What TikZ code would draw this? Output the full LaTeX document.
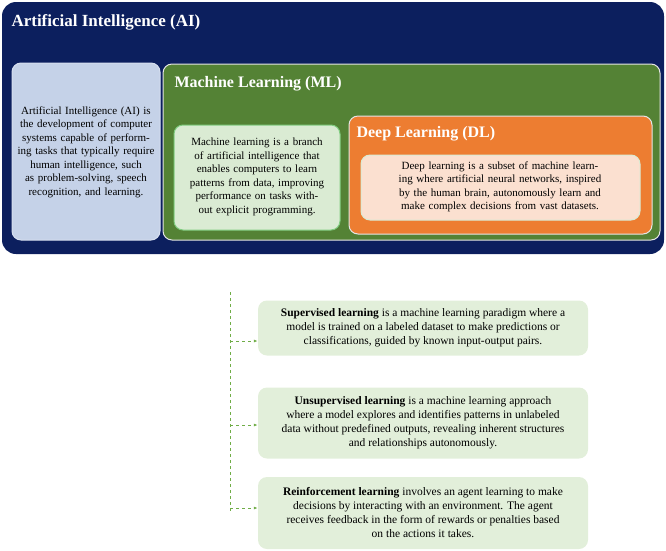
\documentclass[tikz,border=0pt]{standalone}
\usepackage{fontspec}
\setmainfont{Liberation Serif}
\usetikzlibrary{arrows.meta,positioning}
\definecolor{ainavy}{RGB}{12,31,94}
\definecolor{aiblue}{RGB}{197,210,232}
\definecolor{mlgreen}{RGB}{84,130,53}
\definecolor{mllight}{RGB}{218,235,211}
\definecolor{dlorange}{RGB}{237,125,49}
\definecolor{dllight}{RGB}{251,224,208}
\definecolor{typefill}{RGB}{226,239,218}
\definecolor{dashgreen}{RGB}{112,173,71}
\begin{document}
\begin{tikzpicture}[x=1pt,y=-1pt,
    area/.style={draw=white!80!gray, line width=1pt, rounded corners=9pt},
    title/.style={anchor=west, text=white, font=\bfseries\fontsize{17}{19}\selectfont},
    desc/.style={rounded corners=9pt, align=center, inner sep=2pt, font=\fontsize{11}{13.5}\selectfont},
    typebox/.style={fill=typefill, rounded corners=9pt, align=center, minimum width=330pt, font=\fontsize{11.5}{14}\selectfont},
    dasharrow/.style={dashed, dashgreen, thick, -{Latex[length=4pt]}}
]
    \useasboundingbox (0,0) rectangle (666,550);

    % AI
    \fill[ainavy, rounded corners=14pt] (2,2) rectangle (664,254);
    \node[title] (aititle) at (8,22) {Artificial Intelligence (AI)};
    \draw[area, fill=aiblue, draw=aiblue!70!white] (12,63) rectangle (160,240);
    \node[desc, text width=138pt] (aitext) at (86,152) {Artificial Intelligence (AI) is the development of computer systems capable of performing tasks that typically require human intelligence, such as problem-solving, speech recognition, and learning.};

    % ML
    \draw[area, fill=mlgreen] (163,64) rectangle (660,240);
    \node[title, font=\bfseries\fontsize{16}{18}\selectfont] (mltitle) at (171,84) {Machine Learning (ML)};
    \draw[area, fill=mllight, draw=green!60!black!50] (174,125) rectangle (340,230);
    \node[desc, text width=158pt] (mltext) at (257,177) {Machine learning is a branch of artificial intelligence that enables computers to learn patterns from data, improving performance on tasks without explicit programming.};

    % DL
    \draw[area, fill=dlorange] (349,116) rectangle (652,234);
    \node[title, font=\bfseries\fontsize{16}{18}\selectfont] (dltitle) at (353,134) {Deep Learning (DL)};
    \draw[area, fill=dllight, draw=mllight] (361,155) rectangle (640,220);
    \node[desc, text width=270pt] (dltext) at (500,187) {Deep learning is a subset of machine learning where artificial neural networks, inspired by the human brain, autonomously learn and make complex decisions from vast datasets.};

    % Learning types
    \node[typebox, minimum height=55pt] (sup) at (423,328) {\textbf{Supervised learning} is a machine learning paradigm where a\\model is trained on a labeled dataset to make predictions or\\classifications, guided by known input-output pairs.};
    \node[typebox, minimum height=71pt] (unsup) at (423,423) {\textbf{Unsupervised learning} is a machine learning approach\\where a model explores and identifies patterns in unlabeled\\data without predefined outputs, revealing inherent structures\\and relationships autonomously.};
    \node[typebox, minimum height=72pt] (reinf) at (423,513) {\textbf{Reinforcement learning} involves an agent learning to make\\decisions by interacting with an environment. The agent\\receives feedback in the form of rewards or penalties based\\on the actions it takes.};

    \coordinate (top) at (230,292);
    \coordinate (bottom) at (230,512);
    \draw[dashed, dashgreen, thick] (top) -- (bottom);
    \draw[dasharrow] (230,341) -- (sup.west |- 0,341);
    \draw[dasharrow] (230,425) -- (unsup.west |- 0,425);
    \draw[dasharrow] (230,508) -- (reinf.west |- 0,508);
\end{tikzpicture}
\end{document}
